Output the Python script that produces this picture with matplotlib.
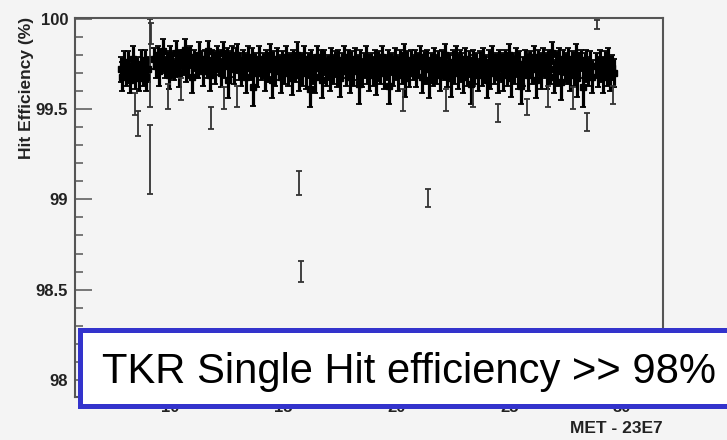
import matplotlib.pyplot as plt
from matplotlib.patches import Rectangle

plt.rcParams['font.family'] = ['Liberation Sans', 'DejaVu Sans']

# run-by-run hit efficiency (%) vs MET - 23E7
seg_a_x = [7.82, 7.90, 7.97, 8.05, 8.13, 8.21, 8.30, 8.38, 8.46, 8.55, 8.63, 8.72, 8.80, 8.88, 8.96, 9.03]
seg_a_eff = [99.72, 99.68, 99.76, 99.70, 99.74, 99.66, 99.71, 99.78, 99.69, 99.73, 99.67, 99.75, 99.70, 99.77, 99.68, 99.72]
seg_a_err = [0.07, 0.08, 0.06, 0.07, 0.08, 0.07, 0.06, 0.07, 0.08, 0.06, 0.07, 0.08, 0.07, 0.06, 0.08, 0.07]

seg_b_x = [
    9.30, 9.38, 9.45, 9.53, 9.62, 9.70, 9.77, 9.85, 9.94, 10.02, 10.09, 10.17,
    10.26, 10.34, 10.41, 10.49, 10.58, 10.66, 10.73, 10.81, 10.90, 10.98, 11.05, 11.13,
    11.22, 11.30, 11.37, 11.45, 11.54, 11.62, 11.69, 11.77, 11.86, 11.94, 12.01, 12.09,
    12.18, 12.26, 12.33, 12.41, 12.50, 12.58, 12.65, 12.73, 12.82, 12.90, 12.97, 13.05,
    13.14, 13.22, 13.29, 13.37, 13.46, 13.54, 13.61, 13.69, 13.78, 13.86, 13.93, 14.01,
    14.10, 14.18, 14.25, 14.33, 14.42, 14.50, 14.57, 14.65, 14.74, 14.82, 14.89, 14.97,
    15.06, 15.14, 15.21, 15.29, 15.38, 15.46, 15.53, 15.61, 15.70, 15.78, 15.85, 15.93,
    16.02, 16.10, 16.17, 16.25, 16.34, 16.42, 16.49, 16.57, 16.66, 16.74, 16.81, 16.89,
    16.98, 17.06, 17.13, 17.21, 17.30, 17.38, 17.45, 17.53, 17.62, 17.70, 17.77, 17.85,
    17.94, 18.02, 18.09, 18.17, 18.26, 18.34, 18.41, 18.49, 18.58, 18.66, 18.73, 18.81,
    18.90, 18.98, 19.05, 19.13, 19.22, 19.30, 19.37, 19.45, 19.54, 19.62, 19.69, 19.77,
    19.86, 19.94, 20.01, 20.09, 20.18, 20.26, 20.33, 20.41, 20.50, 20.58, 20.65, 20.73,
    20.82, 20.90, 20.97, 21.05, 21.14, 21.22, 21.29, 21.37, 21.46, 21.54, 21.61, 21.69,
    21.78, 21.86, 21.93, 22.01, 22.10, 22.18, 22.25, 22.33, 22.42, 22.50, 22.57, 22.65,
    22.74, 22.82, 22.89, 22.97, 23.06, 23.14, 23.21, 23.29, 23.38, 23.46, 23.53, 23.61,
    23.70, 23.78, 23.85, 23.93, 24.02, 24.10, 24.17, 24.25, 24.34, 24.42, 24.49, 24.57,
    24.66, 24.74, 24.81, 24.89, 24.98, 25.06, 25.13, 25.21, 25.30, 25.38, 25.45, 25.53,
    25.62, 25.70, 25.77, 25.85, 25.94, 26.02, 26.09, 26.17, 26.26, 26.34, 26.41, 26.49,
    26.58, 26.66, 26.73, 26.81, 26.90, 26.98, 27.05, 27.13, 27.22, 27.30, 27.37, 27.45,
    27.54, 27.62, 27.69, 27.77, 27.86, 27.94, 28.01, 28.09, 28.18, 28.26, 28.33, 28.41,
    28.50, 28.58, 28.65]
seg_b_eff = [
    99.78, 99.74, 99.80, 99.71, 99.76, 99.82, 99.73, 99.77, 99.69, 99.79, 99.75, 99.72,
    99.81, 99.74, 99.70, 99.78, 99.76, 99.83, 99.72, 99.75, 99.79, 99.68, 99.77, 99.74,
    99.73, 99.80, 99.76, 99.71, 99.78, 99.74, 99.82, 99.69, 99.77, 99.75, 99.72, 99.79,
    99.76, 99.70, 99.81, 99.74, 99.78, 99.66, 99.75, 99.79, 99.72, 99.77, 99.80, 99.73,
    99.71, 99.77, 99.74, 99.68, 99.79, 99.73, 99.76, 99.62, 99.75, 99.70, 99.78, 99.72,
    99.74, 99.69, 99.77, 99.72, 99.80, 99.66, 99.75, 99.71, 99.78, 99.73, 99.68, 99.76,
    99.72, 99.79, 99.70, 99.74, 99.67, 99.77, 99.73, 99.80, 99.69, 99.75, 99.71, 99.78,
    99.70, 99.74, 99.61, 99.77, 99.72, 99.68, 99.79, 99.73, 99.75, 99.66, 99.76, 99.71,
    99.73, 99.69, 99.78, 99.72, 99.75, 99.70, 99.77, 99.67, 99.74, 99.79, 99.71, 99.76,
    99.68, 99.75, 99.71, 99.78, 99.73, 99.64, 99.76, 99.70, 99.74, 99.79, 99.72, 99.69,
    99.74, 99.71, 99.77, 99.67, 99.75, 99.72, 99.79, 99.70, 99.73, 99.76, 99.63, 99.75,
    99.71, 99.78, 99.73, 99.69, 99.76, 99.72, 99.80, 99.67, 99.75, 99.70, 99.77, 99.73,
    99.76, 99.70, 99.74, 99.79, 99.68, 99.75, 99.72, 99.77, 99.66, 99.74, 99.71, 99.78,
    99.72, 99.75, 99.69, 99.77, 99.73, 99.80, 99.70, 99.74, 99.67, 99.76, 99.72, 99.79,
    99.70, 99.76, 99.73, 99.68, 99.78, 99.71, 99.75, 99.64, 99.77, 99.72, 99.74, 99.69,
    99.75, 99.71, 99.78, 99.73, 99.66, 99.76, 99.70, 99.79, 99.72, 99.74, 99.68, 99.77,
    99.73, 99.69, 99.76, 99.71, 99.80, 99.67, 99.74, 99.72, 99.78, 99.70, 99.75, 99.63,
    99.71, 99.77, 99.74, 99.69, 99.75, 99.72, 99.79, 99.66, 99.76, 99.73, 99.70, 99.78,
    99.74, 99.70, 99.77, 99.72, 99.81, 99.68, 99.75, 99.71, 99.78, 99.65, 99.76, 99.73,
    99.72, 99.78, 99.69, 99.75, 99.71, 99.80, 99.67, 99.74, 99.77, 99.62, 99.73, 99.76,
    99.71, 99.75, 99.68]
seg_b_err = [
    0.06, 0.07, 0.05, 0.08, 0.06, 0.07, 0.06, 0.05, 0.08, 0.06, 0.07, 0.06,
    0.07, 0.06, 0.08, 0.05, 0.07, 0.06, 0.07, 0.08, 0.06, 0.09, 0.06, 0.07,
    0.06, 0.07, 0.06, 0.08, 0.05, 0.07, 0.06, 0.09, 0.06, 0.07, 0.08, 0.06,
    0.07, 0.08, 0.06, 0.07, 0.06, 0.10, 0.07, 0.06, 0.08, 0.07, 0.06, 0.07,
    0.08, 0.06, 0.07, 0.09, 0.06, 0.07, 0.08, 0.10, 0.06, 0.08, 0.07, 0.06,
    0.07, 0.09, 0.06, 0.07, 0.06, 0.10, 0.07, 0.08, 0.06, 0.07, 0.09, 0.06,
    0.08, 0.06, 0.07, 0.07, 0.09, 0.06, 0.08, 0.07, 0.09, 0.06, 0.08, 0.07,
    0.09, 0.07, 0.10, 0.06, 0.08, 0.09, 0.06, 0.07, 0.08, 0.10, 0.07, 0.08,
    0.07, 0.09, 0.06, 0.08, 0.07, 0.08, 0.06, 0.10, 0.07, 0.06, 0.08, 0.07,
    0.09, 0.07, 0.08, 0.06, 0.07, 0.11, 0.07, 0.08, 0.07, 0.06, 0.08, 0.09,
    0.07, 0.08, 0.06, 0.09, 0.07, 0.08, 0.06, 0.09, 0.07, 0.07, 0.10, 0.06,
    0.08, 0.06, 0.07, 0.09, 0.07, 0.08, 0.06, 0.10, 0.07, 0.08, 0.06, 0.07,
    0.07, 0.08, 0.07, 0.06, 0.09, 0.07, 0.08, 0.06, 0.10, 0.07, 0.08, 0.06,
    0.08, 0.07, 0.09, 0.06, 0.07, 0.06, 0.08, 0.07, 0.10, 0.07, 0.08, 0.06,
    0.09, 0.07, 0.08, 0.09, 0.06, 0.08, 0.07, 0.11, 0.06, 0.08, 0.07, 0.09,
    0.07, 0.08, 0.06, 0.07, 0.10, 0.07, 0.09, 0.06, 0.08, 0.07, 0.09, 0.06,
    0.08, 0.09, 0.07, 0.08, 0.06, 0.10, 0.07, 0.08, 0.06, 0.09, 0.07, 0.10,
    0.08, 0.06, 0.07, 0.09, 0.07, 0.08, 0.06, 0.10, 0.07, 0.08, 0.09, 0.06,
    0.07, 0.09, 0.06, 0.08, 0.06, 0.09, 0.07, 0.08, 0.06, 0.10, 0.07, 0.08,
    0.08, 0.06, 0.09, 0.07, 0.08, 0.06, 0.10, 0.07, 0.06, 0.11, 0.08, 0.07,
    0.08, 0.07, 0.09]

seg_c_x = [28.85, 28.93, 29.00, 29.08, 29.16, 29.24, 29.31, 29.39, 29.47, 29.55, 29.62]
seg_c_eff = [99.74, 99.70, 99.77, 99.72, 99.68, 99.75, 99.71, 99.78, 99.69, 99.73, 99.70]
seg_c_err = [0.07, 0.08, 0.06, 0.07, 0.09, 0.07, 0.08, 0.06, 0.09, 0.07, 0.08]

# runs that fall away from the main band
low_x = [8.45, 8.60, 9.12, 9.12, 9.15, 9.90, 10.50, 11.80, 12.40, 12.95, 15.70, 15.80,
         20.30, 21.40, 22.20, 23.40, 24.50, 25.80, 26.70, 27.80, 28.45, 28.90, 29.60]
low_eff = [99.53, 99.42, 99.22, 99.755, 99.92, 99.57, 99.61, 99.45, 99.56, 99.57, 99.09, 98.60,
           99.55, 99.01, 99.55, 99.57, 99.48, 99.51, 99.57, 99.56, 99.43, 99.97, 99.58]
low_err = [0.06, 0.07, 0.19, 0.245, 0.06, 0.07, 0.06, 0.06, 0.06, 0.06, 0.065, 0.06,
           0.06, 0.05, 0.06, 0.06, 0.05, 0.045, 0.06, 0.06, 0.05, 0.025, 0.05]

y_major = [98, 98.5, 99, 99.5, 100]
y_labels = ['98', '98.5', '99', '99.5', '100']
x_major = [10, 15, 20, 25, 30]
x_labels = ['10', '15', '20', '25', '30']

bg = '#f4f4f4'
fig = plt.figure(figsize=(7.27, 4.40), dpi=100, facecolor=bg)
ax = fig.add_axes([75 / 727, 1 - 397 / 440, 588 / 727, 379 / 440], facecolor=bg)

for xs, ys, es in [(seg_a_x, seg_a_eff, seg_a_err), (seg_b_x, seg_b_eff, seg_b_err),
                   (seg_c_x, seg_c_eff, seg_c_err)]:
    ax.errorbar(xs, ys, yerr=es, fmt='s', ms=4.2, color='black', ecolor='black',
                elinewidth=2.3, capsize=2, capthick=1.3)
ax.errorbar(low_x, low_eff, yerr=low_err, fmt='none', ecolor='#333333',
            elinewidth=1.3, capsize=2.2, capthick=1.3)

ax.set_xlim(5.8, 31.8)
ax.set_ylim(97.905, 100.005)
ax.set_yticks(y_major, labels=y_labels, fontweight='bold', fontsize=12, color='#222222')
ax.set_yticks([v / 10 for v in range(980, 1001)], minor=True)
ax.set_xticks(x_major, labels=x_labels, fontweight='bold', fontsize=12, color='#222222')
ax.set_xticks(range(6, 32), minor=True)
ax.tick_params(which='major', direction='in', length=12, width=1.1, color='#555555', pad=5)
ax.tick_params(which='minor', direction='in', length=6, width=1.1, color='#555555')
ax.tick_params(axis='x', pad=2)
for s in ax.spines.values():
    s.set_color('#555555')
    s.set_linewidth(1.5)

fig.text(27 / 727, 1 - 17 / 440, 'Hit Efficiency (%)', rotation=90, ha='center', va='top',
         fontweight='bold', fontsize=12.5, color='#222222')
ax.set_xlabel('MET - 23E7', loc='right', fontweight='bold', fontsize=12.5, color='#222222')
ax.xaxis.set_label_coords(1.0, (397 - 421) / 379)

fig.add_artist(Rectangle((79.5 / 727, 1 - 405.5 / 440), 700 / 727, 76 / 440,
                         transform=fig.transFigure, facecolor='white', edgecolor='#3333cc',
                         linewidth=3.6, clip_on=False, zorder=10))
fig.text(102 / 727, 1 - 383 / 440, 'TKR Single Hit efficiency >> 98%', fontsize=30.1,
         ha='left', va='baseline', color='black', zorder=11)

fig.savefig('out.png', dpi=100, facecolor=bg)
